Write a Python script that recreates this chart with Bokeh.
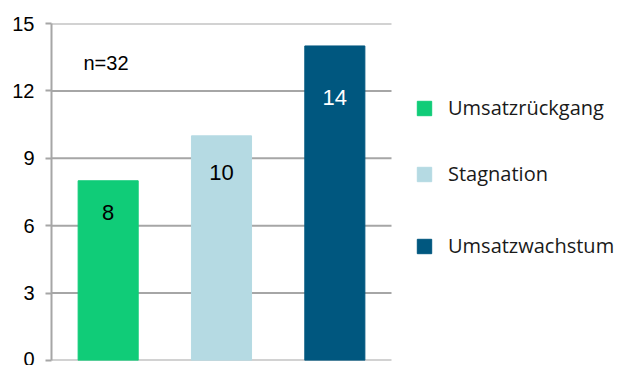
from bokeh.plotting import figure
from bokeh.models import ColumnDataSource, Legend, LegendItem, Label, FixedTicker, Range1d
from bokeh.embed import file_html
from bokeh.resources import INLINE

categories = ["Umsatzrückgang", "Stagnation", "Umsatzwachstum"]
values = [8, 10, 14]
colors = ["#10cc78", "#b5dae3", "#00577f"]
label_colors = ["#000000", "#000000", "#ffffff"]
label_offsets = [32, 37, 52]
y_ticks = [0, 3, 6, 9, 12, 15]
note = "n=32"

n = len(categories)
xs = list(range(n))
src = ColumnDataSource(dict(
    x=xs, cat=categories, val=values, color=colors,
    txt=[str(v) for v in values], tcol=label_colors, yoff=label_offsets,
))

# frame spans 51..621 px; one category = 340/3 px
p = figure(width=621, height=365, x_range=Range1d(-0.5, -0.5 + 570 / (340 / n)),
           y_range=Range1d(0, 15),
           output_backend="svg", toolbar_location=None,
           min_border_left=51, min_border_right=0, min_border_top=23, min_border_bottom=5)

grid_src = ColumnDataSource(dict(y=y_ticks, x0=[-0.5] * len(y_ticks),
                                 x1=[n - 0.5] * len(y_ticks)))
p.segment(x0="x0", x1="x1", y0="y", y1="y", line_color="#a6a6a6", line_width=2,
          source=grid_src)

r = p.vbar(x="x", top="val", width=0.53, color="color", source=src)
p.text(x="x", y="val", text="txt", text_color="tcol", y_offset="yoff",
       text_align="center", text_baseline="middle", text_font_size="22px",
       text_font={"value": "Liberation Sans"}, source=src)

p.outline_line_color = None
p.xaxis.visible = False
p.xgrid.visible = False
p.ygrid.visible = False
p.yaxis.ticker = FixedTicker(ticks=y_ticks)
p.yaxis.axis_line_color = "#a6a6a6"
p.yaxis.axis_line_width = 2
p.yaxis.major_tick_line_color = "#a6a6a6"
p.yaxis.major_tick_line_width = 2
p.yaxis.major_tick_out = 6
p.yaxis.major_tick_in = 0
p.yaxis.minor_tick_line_color = None
p.yaxis.major_label_standoff = 11
p.yaxis.major_label_text_font = "Liberation Sans"
p.yaxis.major_label_text_font_size = "20px"
p.yaxis.major_label_text_color = "#000000"

p.add_layout(Label(x=32, y=298, x_units="screen", y_units="screen", text=note,
                   text_font="Liberation Sans", text_font_size="20px",
                   text_baseline="middle", text_color="#000000"))

leg_bottoms = [239, 173, 101]
for i, (c, b) in enumerate(zip(categories, leg_bottoms)):
    lg = Legend(items=[LegendItem(label=c, renderers=[r], index=i)],
                location=(364, b), glyph_width=18, glyph_height=18,
                label_standoff=15, label_text_font="Open Sans",
                label_text_font_size="20px", label_text_color="#1a1a1a",
                padding=0, margin=0, spacing=0, border_line_color=None,
                background_fill_alpha=0)
    p.add_layout(lg, "center")

open("out.html", "w").write(file_html(p, INLINE))
